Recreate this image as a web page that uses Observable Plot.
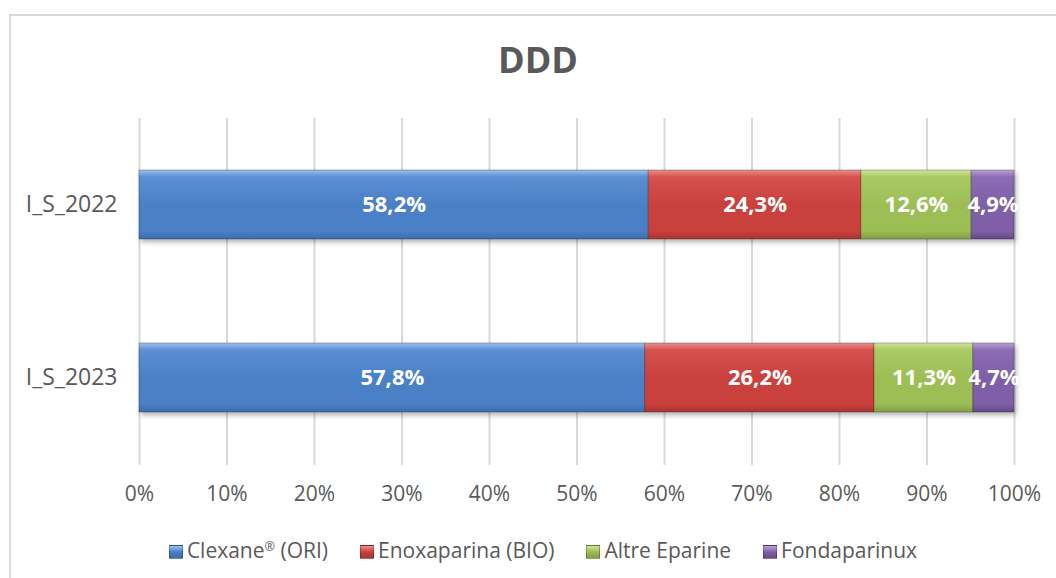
<!DOCTYPE html>
<html>
<head>
<meta charset="utf-8">
<script src="https://cdn.jsdelivr.net/npm/d3@7"></script>
<script src="https://cdn.jsdelivr.net/npm/@observablehq/plot@0.6"></script>
<style>
  html, body { margin: 0; padding: 0; background: #fff; width: 1056px; height: 578px; overflow: hidden; }
  body { font-family: "Open Sans", sans-serif; position: relative; }
  #frame { position: absolute; left: 9px; top: 14px; width: 1100px; height: 620px; border: 2px solid #d9d9d9; box-sizing: border-box; pointer-events: none; }
  #title { height: 100px; line-height: 100px; padding-top: 10px; box-sizing: border-box; text-align: center; font-size: 36px; font-weight: bold; color: #595959; padding-left: 20px; }
  #legend { height: 40px; line-height: 40px; text-align: center; font-size: 21px; color: #595959; padding-left: 30px; white-space: nowrap; }
  .item { display: inline-block; margin: 0 16px; }
  .sw { display: inline-block; width: 14px; height: 14px; margin-right: 4px; vertical-align: -1px; border: 1px solid rgba(0,0,0,0.25); box-sizing: border-box; }
  sup { font-size: 0.6em; vertical-align: 0.55em; line-height: 0; }
</style>
</head>
<body>
<div id="frame"></div>
<div id="title">DDD</div>
<div id="chart"></div>
<div id="legend"></div>
<script>
const years = ["I_S_2022", "I_S_2023"];
const series = ["Clexane® (ORI)", "Enoxaparina (BIO)", "Altre Eparine", "Fondaparinux"];
const values2022 = [58.2, 24.3, 12.6, 4.9];
const values2023 = [57.8, 26.2, 11.3, 4.7];
const xTicks = [0, 10, 20, 30, 40, 50, 60, 70, 80, 90, 100];

const gradStops = [
  ["#9dc0ec", "#5b8fd4", "#4a80c6", "#3d6cad"],
  ["#eb8f8c", "#d5524f", "#c9403d", "#a83532"],
  ["#cfe49a", "#a9cb63", "#9cbe55", "#829f44"],
  ["#b8a2d6", "#8c6cb4", "#7f5fa8", "#654a88"]
];
const gradIds = ["gB", "gR", "gG", "gP"];

const data = [];
years.forEach((y, i) => {
  const vals = i === 0 ? values2022 : values2023;
  series.forEach((s, j) => data.push({year: y, series: s, value: vals[j]}));
});

const fmt = v => v.toFixed(1).replace(".", ",") + "%";

const chart = Plot.plot({
  width: 1056,
  height: 430,
  marginLeft: 139,
  marginRight: 42,
  marginTop: 18,
  marginBottom: 65,
  style: {fontFamily: "'Open Sans', sans-serif", fontSize: "21px", color: "#595959", background: "transparent"},
  x: {domain: [0, 100], ticks: xTicks, tickFormat: d => d + "%", label: null, tickSize: 0, tickPadding: 21},
  y: {domain: years, paddingInner: 0.6, paddingOuter: 0.3, label: null, tickSize: 0, tickPadding: 22},
  color: {type: "ordinal", domain: series, range: gradIds.map(id => `url(#${id})`)},
  marks: [
    Plot.gridX(xTicks, {stroke: "#d9d9d9", strokeOpacity: 1, strokeWidth: 2}),
    Plot.barX(data, Plot.stackX({x: "value", y: "year", z: "series", fill: "series", stroke: "rgba(0,0,0,0.25)", strokeWidth: 1, inset: 0})),
    Plot.text(data, Plot.stackX({x: "value", y: "year", z: "series", text: d => fmt(d.value), fill: "white", fontWeight: "bold", fontSize: 22}))
  ]
});

const svg = d3.select(chart);
svg.selectAll("g[aria-label='y-axis tick label'] text, g[aria-label='y-axis tick label']").style("font-size", "23px");
const defs = svg.insert("defs", ":first-child");
gradIds.forEach((id, i) => {
  const g = defs.append("linearGradient").attr("id", id).attr("x1", 0).attr("y1", 0).attr("x2", 0).attr("y2", 1);
  const st = gradStops[i];
  [[0, st[0]], [0.1, st[1]], [0.5, st[2]], [0.88, st[2]], [1, st[3]]].forEach(([o, c]) => g.append("stop").attr("offset", o).attr("stop-color", c));
});
const f = defs.append("filter").attr("id", "shadow").attr("x", "-5%").attr("y", "-20%").attr("width", "110%").attr("height", "150%");
f.append("feDropShadow").attr("dx", 2).attr("dy", 3).attr("stdDeviation", 2.5).attr("flood-color", "#000").attr("flood-opacity", 0.3);
svg.selectAll("g[aria-label='bar']").attr("filter", "url(#shadow)");

document.getElementById("chart").appendChild(chart);

const legend = document.getElementById("legend");
series.forEach((s, i) => {
  const st = gradStops[i];
  const item = document.createElement("span");
  item.className = "item";
  const sw = document.createElement("span");
  sw.className = "sw";
  sw.style.background = `linear-gradient(${st[0]}, ${st[2]} 50%, ${st[3]})`;
  item.appendChild(sw);
  const parts = s.split("®");
  item.appendChild(document.createTextNode(parts[0]));
  if (parts.length > 1) {
    const sup = document.createElement("sup");
    sup.textContent = "®";
    item.appendChild(sup);
    item.appendChild(document.createTextNode(parts[1]));
  }
  legend.appendChild(item);
});
</script>
</body>
</html>
